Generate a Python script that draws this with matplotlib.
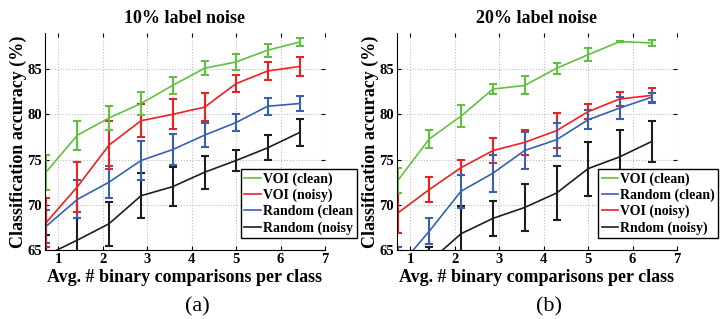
import matplotlib
matplotlib.use("Agg")
import matplotlib.pyplot as plt

plt.rcParams['font.family'] = ['Liberation Serif', 'DejaVu Serif']
plt.rcParams['font.weight'] = 'bold'

# x positions: average number of binary comparisons per class
x = [0.72, 1.43, 2.14, 2.86, 3.57, 4.29, 5.0, 5.71, 6.43]

# (a) 10% label noise
voi_clean_a = [73.6, 77.7, 79.6, 81.2, 83.2, 85.1, 85.8, 87.1, 88.0]
voi_clean_a_err = [1.95, 1.6, 1.3, 1.3, 0.9, 0.8, 0.9, 0.7, 0.4]
voi_noisy_a = [68.0, 72.0, 76.6, 79.3, 80.0, 80.8, 83.4, 84.8, 85.3]
voi_noisy_a_err = [2.7, 2.75, 2.65, 1.8, 1.65, 1.55, 0.95, 0.95, 1.1]
rand_clean_a = [67.6, 70.6, 72.5, 74.9, 76.1, 77.7, 79.1, 80.9, 81.2]
rand_clean_a_err = [1.85, 2.1, 1.8, 2.15, 1.75, 1.35, 0.95, 0.95, 0.85]
rand_noisy_a = [64.4, 66.1, 67.9, 71.0, 72.0, 73.6, 74.9, 76.3, 78.0]
rand_noisy_a_err = [2.3, 2.4, 2.45, 2.5, 2.15, 1.8, 1.2, 1.4, 1.45]

# (b) 20% label noise
voi_clean_b = [72.7, 77.3, 79.8, 82.8, 83.2, 85.1, 86.6, 88.05, 87.9]
voi_clean_b_err = [1.4, 1.0, 1.2, 0.6, 1.0, 0.6, 0.7, 0.1, 0.3]
rand_clean_b = [63.0, 67.1, 71.5, 73.5, 76.0, 77.2, 79.4, 80.7, 81.9]
rand_clean_b_err = [2.3, 1.45, 1.8, 2.05, 2.05, 1.85, 1.05, 1.2, 0.5]
voi_noisy_b = [69.1, 71.7, 74.1, 76.0, 76.9, 78.2, 80.3, 81.7, 82.1]
voi_noisy_b_err = [2.2, 1.4, 0.85, 1.35, 1.4, 1.9, 0.85, 0.8, 0.85]
rand_noisy_b = [62.0, 63.7, 66.8, 68.5, 69.7, 71.3, 74.0, 75.3, 77.0]
rand_noisy_b_err = [1.0, 1.6, 3.1, 1.95, 2.6, 3.0, 3.0, 3.0, 2.3]

green = '#62c040'
red = '#ee2024'
blue = '#3760b4'
black = '#1e1e1e'

fig = plt.figure(figsize=(7.23, 3.19), dpi=100)
ax1 = fig.add_axes([45 / 723, 1 - 250 / 319, 280 / 723, 217 / 319])
ax2 = fig.add_axes([397 / 723, 1 - 250 / 319, 280 / 723, 217 / 319])

panel_a = [(voi_clean_a, voi_clean_a_err, green, 'VOI (clean)'),
           (voi_noisy_a, voi_noisy_a_err, red, 'VOI (noisy)'),
           (rand_clean_a, rand_clean_a_err, blue, 'Random (clean'),
           (rand_noisy_a, rand_noisy_a_err, black, 'Random (noisy')]
panel_b = [(voi_clean_b, voi_clean_b_err, green, 'VOI (clean)'),
           (rand_clean_b, rand_clean_b_err, blue, 'Random (clean)'),
           (voi_noisy_b, voi_noisy_b_err, red, 'VOI (noisy)'),
           (rand_noisy_b, rand_noisy_b_err, black, 'Rndom (noisy)')]

for ax, series, title, sub, leg_x in [(ax1, panel_a, '10% label noise', '(a)', 0.70),
                                      (ax2, panel_b, '20% label noise', '(b)', 0.718)]:
    # draw in reverse so the green curve ends up on top
    for y, err, color, label in series[::-1]:
        ax.errorbar(x, y, yerr=err, color=color, lw=1.2, elinewidth=1.5,
                    capsize=3, capthick=1.5, label=label)
    ax.set_xlim(0.7, 7)
    ax.set_ylim(65, 89)
    ax.set_xticks([1, 2, 3, 4, 5, 6, 7])
    ax.set_yticks([65, 70, 75, 80, 85])
    ax.grid(True, linestyle=':', color='#bbbbbb', lw=0.8)
    ax.spines['top'].set_visible(False)
    ax.spines['right'].set_visible(False)
    ax.tick_params(direction='in', top=True, right=True, labelsize=10.5, length=3, pad=2)
    for lab in ax.get_xticklabels() + ax.get_yticklabels():
        lab.set_fontweight('bold')
    ax.set_title(title, fontsize=13, fontweight='bold', pad=7)
    ax.set_xlabel('Avg. # binary comparisons per class', fontsize=13, fontweight='bold', labelpad=2)
    ax.set_ylabel('Classification accuracy (%)', fontsize=13, fontweight='bold', labelpad=0)
    handles, labels = ax.get_legend_handles_labels()
    handles = [h[0] for h in handles[::-1]]
    labels = labels[::-1]
    leg = ax.legend(handles, labels, loc='lower left', bbox_to_anchor=(leg_x, 0.055),
                    fontsize=10, frameon=True, fancybox=False, framealpha=1,
                    edgecolor='black', handlelength=1.2, handletextpad=0.15,
                    labelspacing=0.2, borderpad=0.25, borderaxespad=0)
    leg.get_frame().set_linewidth(1.0)
    leg.set_zorder(5)
    ax.text(0.543, -0.263, sub, transform=ax.transAxes, ha='center', va='center',
            fontsize=16, fontweight='normal')

fig.savefig('out.png', dpi=100)
